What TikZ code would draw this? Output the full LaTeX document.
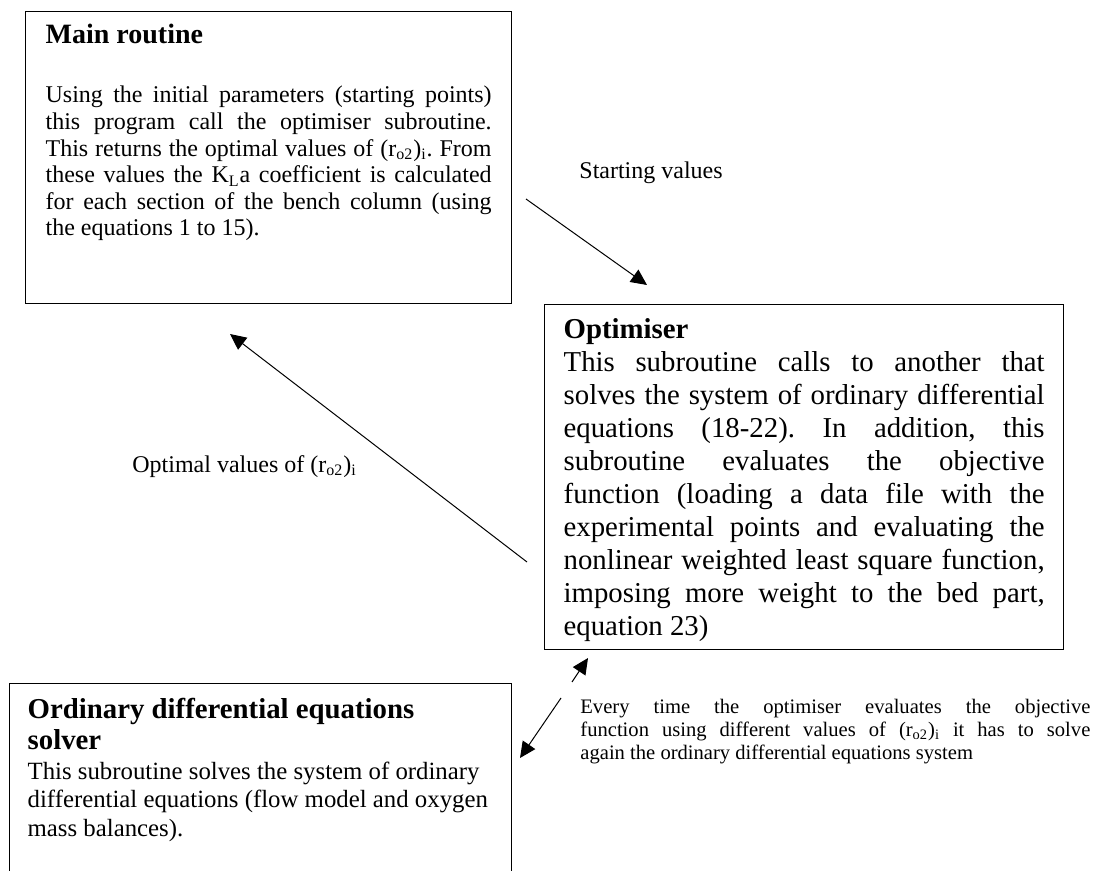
\documentclass[tikz,border=0pt]{standalone}
\usepackage{fontspec}
\setmainfont{Liberation Serif}
\usepackage{tikz}
\usetikzlibrary{arrows.meta, positioning}

\begin{document}
\frenchspacing
\begin{tikzpicture}[x=0.5pt, y=-0.5pt, box/.style={rectangle, draw, line width=0.65pt, anchor=north west, inner xsep=10pt, inner ysep=6.4pt}, lbl/.style={anchor=base west, inner sep=0pt, font=\fontsize{12}{13.3}\selectfont}, arr/.style={-{Triangle[length=8pt, width=7.5pt]}, line width=0.5pt}]
        \useasboundingbox (0,0) rectangle (1101,871);
        \clip (0,0) rectangle (1101,871);

        \node (main) [box] at (25,11) {\parbox[t][133.2pt][t]{223pt}{{\fontsize{14}{16}\selectfont\bfseries Main routine\par}\vspace{16.2pt}\fontsize{12}{13.3}\selectfont Using the initial parameters (starting points)\linebreak this program call the optimiser subroutine.\linebreak This returns the optimal values of (r\textsubscript{o2})\textsubscript{i}. From\linebreak these values the K\textsubscript{L}a coefficient is calculated\linebreak for each section of the bench column (using\linebreak the equations 1 to 15).}};
        \node (opt) [box, inner xsep=9.5pt, inner ysep=7.1pt] at (544,304) {\parbox[t][158.3pt][t]{240.5pt}{\fontsize{14.4}{16.5}\selectfont\textbf{Optimiser}\par This subroutine calls to another that\linebreak solves the system of ordinary differential\linebreak equations (18-22). In addition, this\linebreak subroutine evaluates the objective\linebreak function (loading a data file with the\linebreak experimental points and evaluating the\linebreak nonlinear weighted least square function,\linebreak imposing more weight to the bed part,\linebreak equation 23)}};
        \node (ode) [box, inner xsep=9pt, inner ysep=7.1pt] at (9,683) {\parbox[t][130pt][t]{233pt}{\raggedright{\fontsize{14.4}{15.5}\selectfont\bfseries Ordinary differential equations\\ solver\par}\vspace{0.75pt}\fontsize{12.4}{14.25}\selectfont This subroutine solves the system of ordinary\\ differential equations (flow model and oxygen\\ mass balances).}};

        \node (start) [lbl] at (579,179) {Starting values};
        \node (optval) [lbl] at (132,472) {Optimal values of (r\textsubscript{o2})\textsubscript{i}};
        \node (every) [anchor=base west, inner sep=0pt] at (580,713) {\parbox[t]{255pt}{\fontsize{10.3}{11.5}\selectfont Every time the optimiser evaluates the objective\linebreak function using different values of (r\textsubscript{o2})\textsubscript{i} it has to solve\linebreak again the ordinary differential equations system}};

        \coordinate (sv-from) at (526,199);
        \coordinate (sv-to) at (647,285);
        \coordinate (ov-from) at (527,562);
        \coordinate (ov-to) at (230,334);
        \coordinate (up-from) at (572,682);
        \coordinate (up-to) at (588,658);
        \coordinate (dn-from) at (561,698);
        \coordinate (dn-to) at (520,758);

        \draw [arr] (sv-from) -- (sv-to);
        \draw [arr] (ov-from) -- (ov-to);
        \draw [arr] (up-from) -- (up-to);
        \draw [arr] (dn-from) -- (dn-to);
    \end{tikzpicture}
\end{document}
